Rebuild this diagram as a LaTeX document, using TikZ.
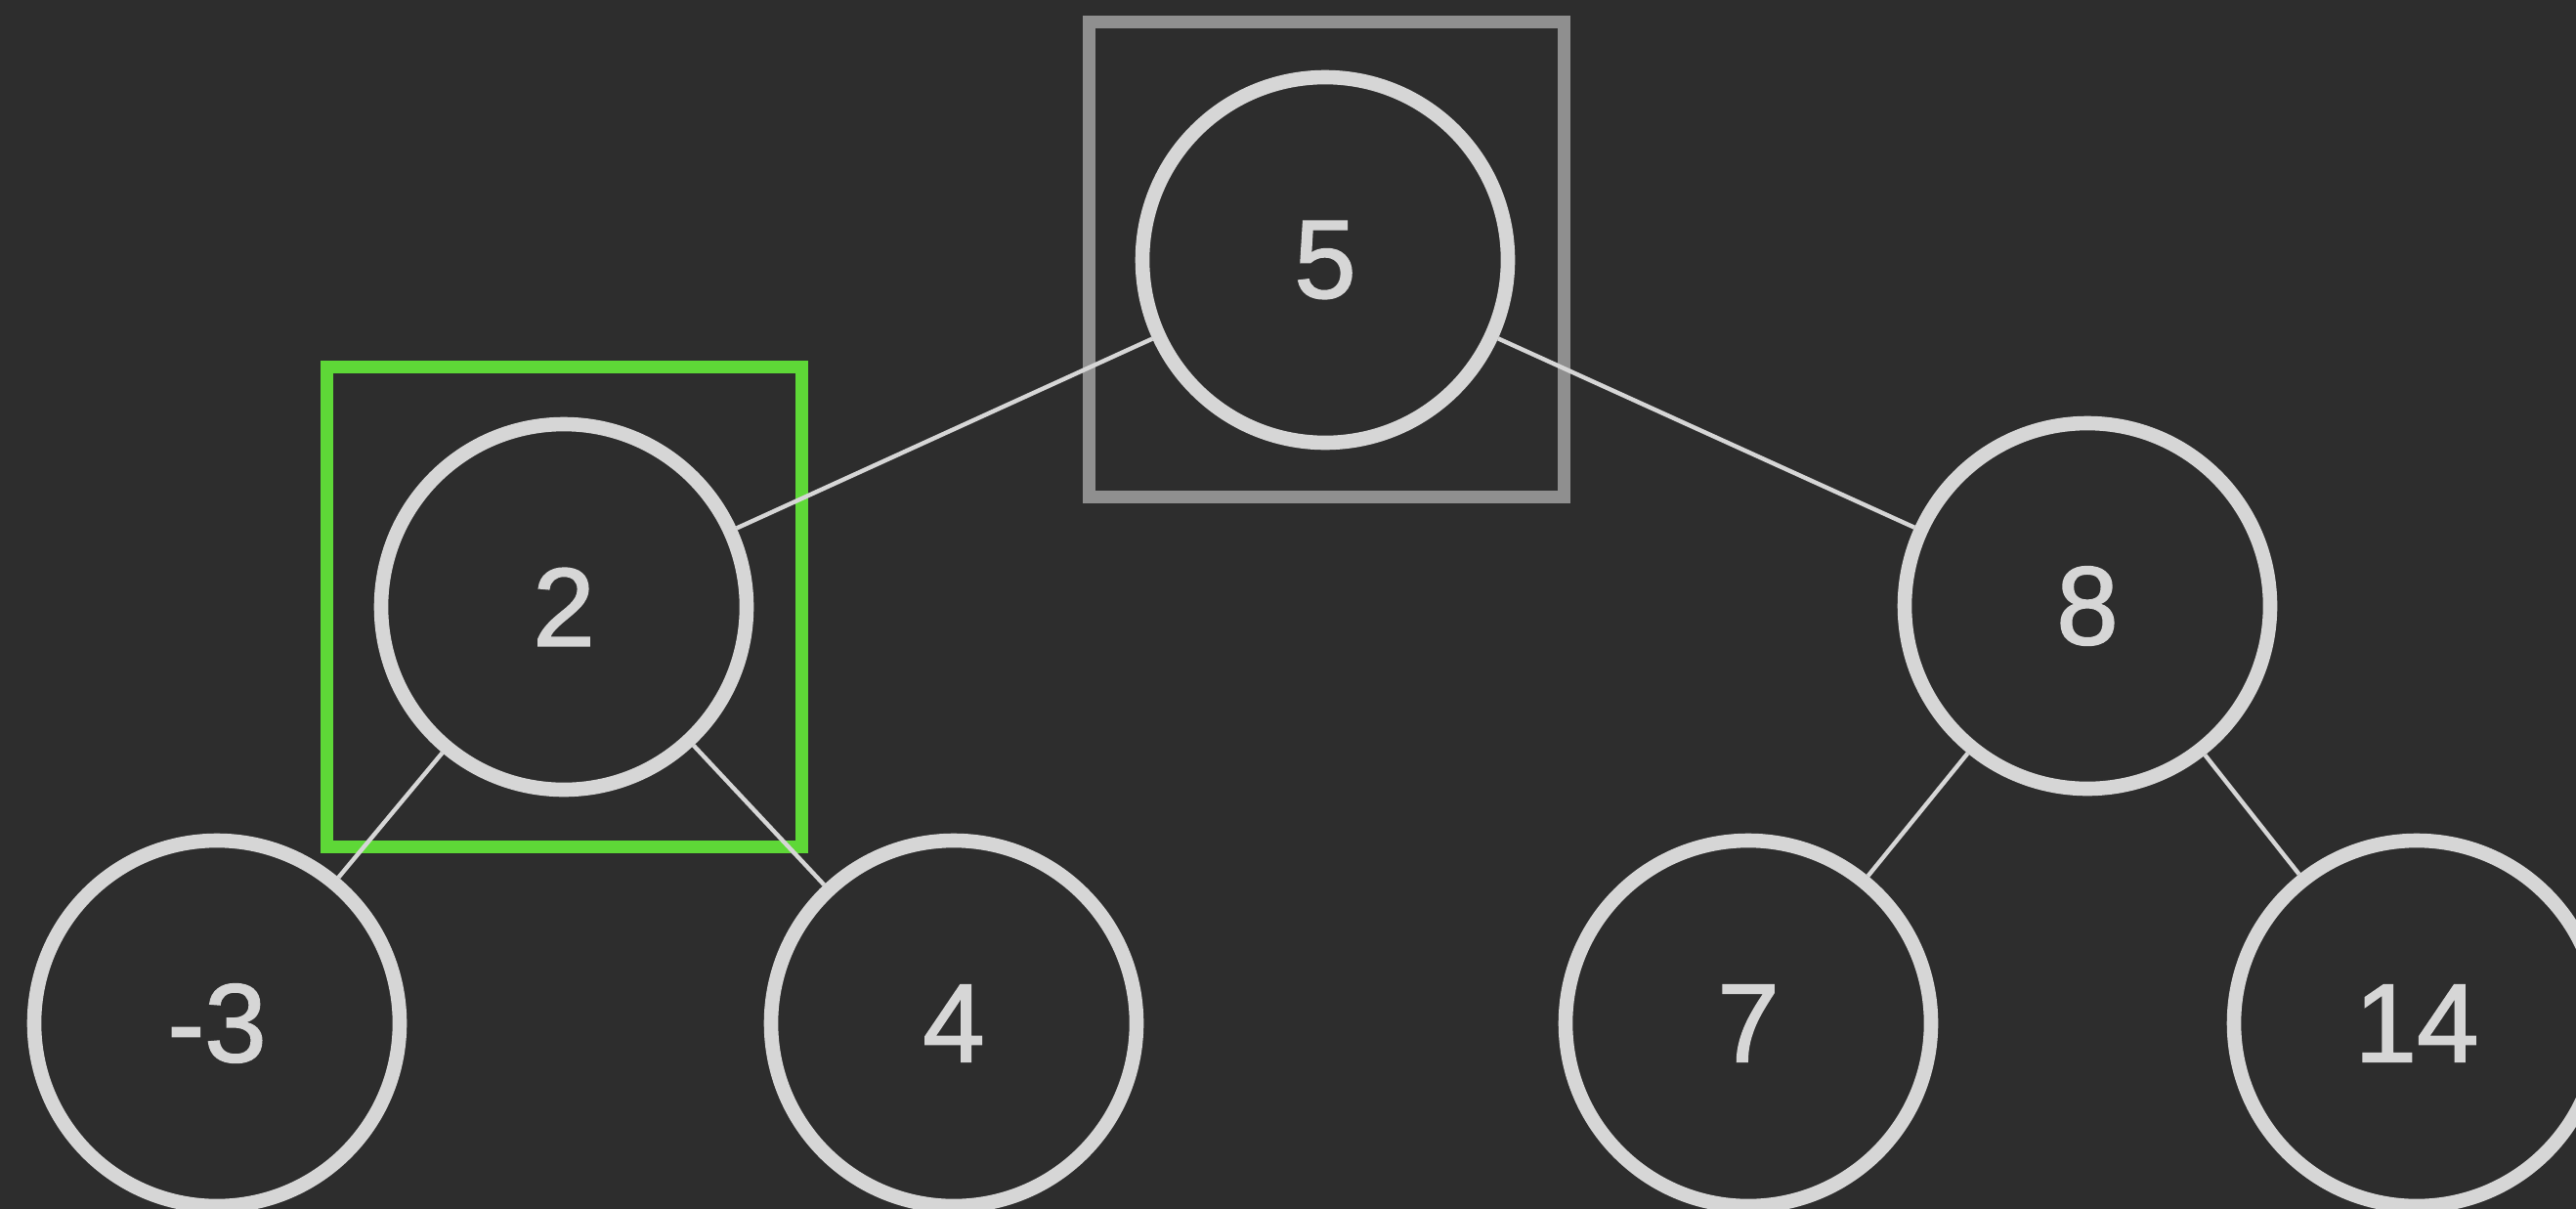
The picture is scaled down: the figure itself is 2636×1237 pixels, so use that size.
\documentclass[tikz,border=0pt]{standalone}
\usepackage{fontspec}
\setmainfont{Liberation Sans}
\newfontfamily\numfont[FakeBold=1.5]{Liberation Sans}
\definecolor{bgcol}{HTML}{2D2D2D}
\definecolor{nodegray}{HTML}{D6D6D6}
\definecolor{boxgray}{HTML}{8F8F8F}
\definecolor{boxgreen}{HTML}{5ED837}
\begin{document}
\begin{tikzpicture}[x=0.5pt,y=-0.5pt,
  tnode/.style={circle, draw=nodegray, line width=7.3pt, minimum size=187pt,
    inner sep=0pt, text=nodegray, font=\numfont\fontsize{57}{60}\selectfont},
  edge/.style={draw=nodegray, line width=2.2pt},
  graybox/.style={draw=boxgray, line width=6.5pt},
  greenbox/.style={draw=boxgreen, line width=6.5pt}]
\useasboundingbox (0,0) rectangle (2636,1237);
\clip (0,0) rectangle (2636,1237);
\fill[bgcol] (0,0) rectangle (2636,1237);
\draw[graybox] (1114,22) rectangle (1600,508);
\draw[greenbox] (334,375) rectangle (820,866);
\node[tnode] (n5) at (1356,266) {5};
\node[tnode] (n2) at (577,621) {2};
\node[tnode] (n8) at (2136,620) {8};
\node[tnode] (nm3) at (222,1047) {-3};
\node[tnode] (n4) at (976,1047) {4};
\node[tnode] (n7) at (1789,1047) {7};
\node[tnode] (n14) at (2473,1047) {14};
\draw[edge] (n5) -- (n2);
\draw[edge] (n5) -- (n8);
\draw[edge] (n2) -- (nm3);
\draw[edge] (n2) -- (n4);
\draw[edge] (n8) -- (n7);
\draw[edge] (n8) -- (n14);
\end{tikzpicture}
\end{document}
